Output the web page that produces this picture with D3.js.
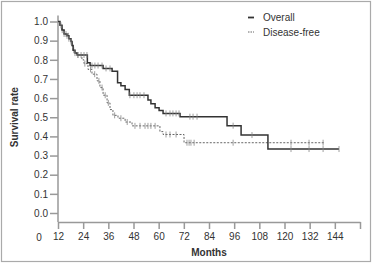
<!DOCTYPE html>
<html>
<head>
<meta charset="utf-8">
<script src="https://cdn.jsdelivr.net/npm/d3@7"></script>
<style>
  body { margin: 0; background: #fff; }
  text { font-family: "Liberation Sans", Arial, sans-serif; fill: #333; }
</style>
</head>
<body>
<div id="chart"></div>
<script>
// step points [months from axis origin, survival]
const overallSteps = [
  [0, 1.0], [0.95, 0.98], [1.9, 0.955], [2.9, 0.935], [4.3, 0.925], [5.2, 0.91],
  [6.2, 0.895], [6.7, 0.875], [7.2, 0.85], [8.1, 0.835], [9.1, 0.825],
  [14, 0.785], [15.3, 0.77], [21.5, 0.755], [25.8, 0.74],
  [28.4, 0.68], [30, 0.665], [32, 0.645], [34, 0.615], [42.9, 0.59],
  [44.3, 0.57], [46.3, 0.55], [48.2, 0.535], [50.1, 0.52], [58.2, 0.503],
  [80.6, 0.456], [87.3, 0.407], [100.1, 0.334]
];
const overallEnd = 134;
const overallCensor = [1.4, 2.9, 4.3, 5.2, 6.2, 8.1, 9.5, 11, 12.4, 13.8, 16.2,
  17.6, 19.1, 21, 22.9, 24.8, 34.3, 36.2, 37.7, 39.1, 41, 51.5, 53.4, 54.8,
  56.3, 57.7, 62.9, 64.4, 66.3, 83.5, 92.5, 111.1, 119.7, 126.4, 134];

const dfSteps = [
  [0, 1.0], [0.95, 0.98], [1.9, 0.955], [2.9, 0.935], [4.3, 0.925], [5.2, 0.91],
  [6.2, 0.895], [6.7, 0.875], [7.2, 0.85], [8.1, 0.835], [9.1, 0.825],
  [11.4, 0.8], [12.4, 0.78], [14.3, 0.75], [16.2, 0.725], [18.6, 0.69],
  [20, 0.655], [21.5, 0.615], [23.4, 0.575], [24.8, 0.54], [26.2, 0.51],
  [28.6, 0.495], [32, 0.475], [35.3, 0.455], [48.6, 0.425], [50.1, 0.41],
  [60.1, 0.367]
];
const dfEnd = 127.3;
const dfCensor = [2, 3.8, 5, 7.5, 9.5, 12.8, 15.5, 17.5, 19.5, 21, 22.5, 24, 27,
  30, 33, 36.7, 39.1, 41.5, 42.9, 44.3, 46.3, 51.5, 53.4, 56.3, 61.5, 62.5,
  63.4, 64.9, 83.5, 111.1, 119.7, 126.4];

const xTicks = [0, 12, 24, 36, 48, 60, 72, 84, 96, 108, 120, 132, 144];
const xTickLabels = ["12", "24", "36", "48", "60", "72", "84", "96", "108", "120", "132", "144", ""];
const yTicks = [0, 0.1, 0.2, 0.3, 0.4, 0.5, 0.6, 0.7, 0.8, 0.9, 1.0];

const svgWidth = 373, svgHeight = 263;
const svg = d3.select("#chart").append("svg")
  .attr("width", svgWidth).attr("height", svgHeight);

// frame
svg.append("rect")
  .attr("x", 1.5).attr("y", 1.5)
  .attr("width", 369).attr("height", 260)
  .attr("fill", "none").attr("stroke", "#aaa").attr("stroke-width", 1.2);

const x = d3.scaleLinear().domain([0, 144]).range([58, 360]);
const y = d3.scaleLinear().domain([0, 1]).range([213, 21.5]);
const axisY = 222;

// y axis
const yAxis = svg.append("g")
  .attr("transform", "translate(58,0)")
  .call(d3.axisLeft(y).tickValues(yTicks).tickFormat(d3.format(".1f")).tickSize(8).tickSizeOuter(0));
yAxis.select(".domain").attr("d", `M0,${y(1) - 6}V${axisY}`);

// x axis
const xAxis = svg.append("g")
  .attr("transform", `translate(0,${axisY})`)
  .call(d3.axisBottom(x).tickValues(xTicks).tickFormat((d, i) => xTickLabels[i]).tickSize(7).tickSizeOuter(0));
xAxis.append("text")
  .attr("x", x(0) - 19).attr("y", 19)
  .attr("text-anchor", "middle")
  .text("0");

svg.selectAll(".domain, .tick line")
  .attr("stroke", "#999").attr("stroke-width", 1.5);
svg.selectAll(".tick text")
  .attr("font-size", 10).attr("fill", "#333")
  .style("font-family", "Liberation Sans, Arial, sans-serif");
yAxis.selectAll(".tick text").attr("x", -10);
xAxis.selectAll(".tick text").attr("y", 11);
xAxis.selectAll("text").attr("font-size", 10);

// axis titles
svg.append("text")
  .attr("transform", `translate(18,${y(0.5)}) rotate(-90)`)
  .attr("text-anchor", "middle")
  .attr("font-size", 10).attr("font-weight", "bold")
  .text("Survival rate");
svg.append("text")
  .attr("x", 209).attr("y", 256)
  .attr("text-anchor", "middle")
  .attr("font-size", 10).attr("font-weight", "bold")
  .text("Months");

// survival at time t for a step list
function survAt(steps, t) {
  let s = steps[0][1];
  steps.forEach(p => { if (p[0] <= t) s = p[1]; });
  return s;
}

const line = d3.line().x(d => x(d[0])).y(d => y(d[1])).curve(d3.curveStepAfter);

function drawCurve(steps, end, censor, color, width, dash) {
  const pts = steps.concat([[end, steps[steps.length - 1][1]]]);
  svg.append("path")
    .attr("d", line(pts))
    .attr("fill", "none")
    .attr("stroke", color)
    .attr("stroke-width", width)
    .attr("stroke-dasharray", dash);
  svg.append("g").selectAll("line")
    .data(censor)
    .enter().append("line")
    .attr("x1", d => x(d)).attr("x2", d => x(d))
    .attr("y1", d => y(survAt(steps, d)) - 3)
    .attr("y2", d => y(survAt(steps, d)) + 3)
    .attr("stroke", "#888").attr("stroke-width", 0.8);
}

drawCurve(dfSteps, dfEnd, dfCensor, "#666", 1, "2,1.5");
drawCurve(overallSteps, overallEnd, overallCensor, "#333", 1.5, null);

// legend
const legend = svg.append("g");
legend.append("line")
  .attr("x1", 248).attr("x2", 254).attr("y1", 17.5).attr("y2", 17.5)
  .attr("stroke", "#333").attr("stroke-width", 1.8);
legend.append("line")
  .attr("x1", 248).attr("x2", 254).attr("y1", 32).attr("y2", 32)
  .attr("stroke", "#666").attr("stroke-width", 1).attr("stroke-dasharray", "1.5,1");
legend.append("text").attr("x", 263).attr("y", 21).attr("font-size", 10).text("Overall");
legend.append("text").attr("x", 263).attr("y", 35.5).attr("font-size", 10).text("Disease-free");
</script>
</body>
</html>
